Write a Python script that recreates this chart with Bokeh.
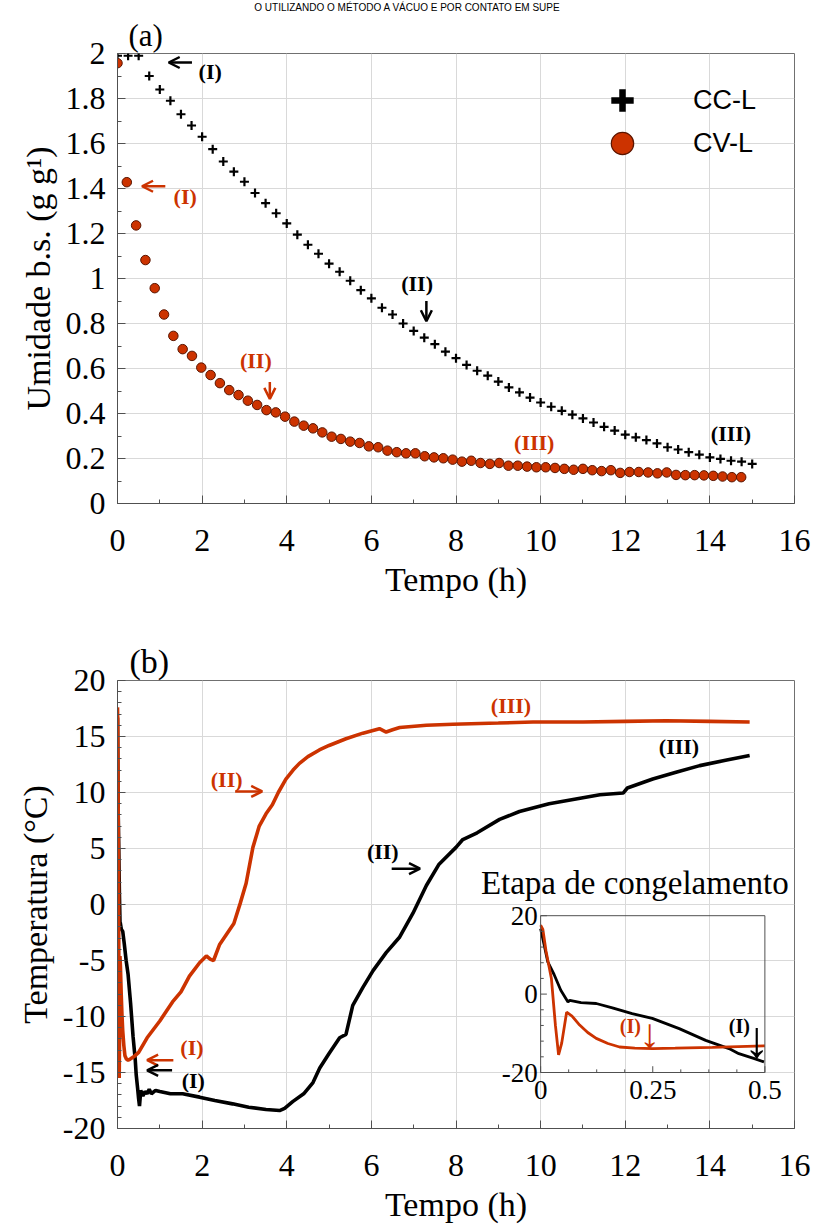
import numpy as np
from bokeh.plotting import figure
from bokeh.layouts import column
from bokeh.models import (Range1d, FixedTicker, Label, Arrow, OpenHead, Legend,
                          LegendItem)
from bokeh.core.properties import value
from bokeh.embed import file_html
from bokeh.resources import INLINE

RED = "#cc3300"
SERIF = "Liberation Serif"
SANS = "Liberation Sans"

# ---------------- Panel (a): moisture content, dry basis (g g-1) ----------------
cc_time = [0.0, 0.25, 0.5, 0.75, 1.0, 1.25, 1.5, 1.75, 2.0, 2.25, 2.5, 2.75, 3.0, 3.25,
           3.5, 3.75, 4.0, 4.25, 4.5, 4.75, 5.0, 5.25, 5.5, 5.75, 6.0, 6.25, 6.5, 6.75,
           7.0, 7.25, 7.5, 7.75, 8.0, 8.25, 8.5, 8.75, 9.0, 9.25, 9.5, 9.75, 10.0, 10.25,
           10.5, 10.75, 11.0, 11.25, 11.5, 11.75, 12.0, 12.25, 12.5, 12.75, 13.0, 13.25,
           13.5, 13.75, 14.0, 14.25, 14.5, 14.75, 15.0]
cc_moisture = [1.99, 1.99, 1.99, 1.90, 1.84, 1.79, 1.73, 1.68, 1.63, 1.575, 1.52, 1.475,
               1.43, 1.38, 1.335, 1.29, 1.245, 1.195, 1.15, 1.11, 1.066, 1.03, 0.99, 0.948,
               0.912, 0.87, 0.84, 0.80, 0.767, 0.737, 0.708, 0.675, 0.646, 0.616, 0.59,
               0.568, 0.542, 0.516, 0.494, 0.471, 0.449, 0.43, 0.412, 0.395, 0.378, 0.36,
               0.341, 0.324, 0.306, 0.294, 0.282, 0.267, 0.25, 0.24, 0.228, 0.217, 0.205,
               0.198, 0.19, 0.186, 0.176]

cv_time = [0.0, 0.22, 0.44, 0.66, 0.88, 1.10, 1.32, 1.54, 1.76, 1.98, 2.20, 2.42, 2.64,
           2.86, 3.08, 3.30, 3.52, 3.74, 3.96, 4.18, 4.40, 4.62, 4.84, 5.06, 5.28, 5.50,
           5.72, 5.94, 6.16, 6.38, 6.60, 6.82, 7.04, 7.26, 7.48, 7.70, 7.92, 8.14, 8.36,
           8.58, 8.80, 9.02, 9.24, 9.46, 9.68, 9.90, 10.12, 10.34, 10.56, 10.78, 11.00,
           11.22, 11.44, 11.66, 11.88, 12.10, 12.32, 12.54, 12.76, 12.98, 13.20, 13.42,
           13.64, 13.86, 14.08, 14.30, 14.52, 14.74]
cv_moisture = [1.957, 1.428, 1.236, 1.082, 0.957, 0.84, 0.745, 0.686, 0.656, 0.604, 0.571,
               0.535, 0.504, 0.482, 0.457, 0.438, 0.415, 0.405, 0.386, 0.364, 0.346, 0.334,
               0.316, 0.297, 0.287, 0.275, 0.269, 0.254, 0.25, 0.235, 0.228, 0.223, 0.223,
               0.21, 0.205, 0.201, 0.195, 0.186, 0.19, 0.18, 0.176, 0.18, 0.168, 0.168,
               0.164, 0.161, 0.161, 0.158, 0.154, 0.15, 0.154, 0.148, 0.144, 0.148, 0.136,
               0.14, 0.14, 0.138, 0.134, 0.138, 0.127, 0.126, 0.126, 0.125, 0.123, 0.12,
               0.117, 0.117]

# ---------------- Panel (b): product temperature (°C) ----------------
cc_temp_time = [0.0, 0.008, 0.016, 0.03, 0.045, 0.061, 0.065, 0.09, 0.124, 0.16, 0.204,
                0.249, 0.309, 0.368, 0.42, 0.442, 0.475, 0.498, 0.52, 0.55, 0.60, 0.65,
                0.70, 0.75, 0.80, 0.90, 1.0, 1.25, 1.54, 1.94, 2.3, 2.72, 3.1, 3.51, 3.83,
                3.95, 4.14, 4.4, 4.62, 4.78, 5.0, 5.25, 5.4, 5.56, 5.8, 6.04, 6.35, 6.67,
                6.98, 7.3, 7.6, 8.0, 8.16, 8.5, 9.03, 9.5, 10.2, 10.8, 11.4, 11.95, 12.05,
                12.65, 13.2, 13.76, 14.4, 14.94]
cc_temp = [16.7, 12.5, 8.2, 5.0, 1.0, -2.0, -1.6, -2.2, -2.4, -3.5, -5.0, -6.2, -8.8,
           -11.8, -13.9, -15.2, -16.4, -17.3, -18.0, -16.6, -17.1, -16.7, -16.9, -16.5,
           -16.9, -16.6, -16.7, -16.9, -16.9, -17.2, -17.5, -17.8, -18.1, -18.3, -18.4,
           -18.2, -17.6, -16.9, -15.9, -14.6, -13.3, -11.9, -11.6, -9.0, -7.4, -5.9, -4.3,
           -2.9, -0.8, 1.7, 3.6, 5.1, 5.8, 6.4, 7.6, 8.3, 9.0, 9.4, 9.8, 9.95, 10.4, 11.2,
           11.8, 12.4, 12.9, 13.3]

cv_temp_time = [0.0, 0.005, 0.012, 0.024, 0.033, 0.040, 0.047, 0.058, 0.070, 0.087, 0.105,
                0.124, 0.150, 0.176, 0.210, 0.250, 0.300, 0.383, 0.50, 0.70, 1.0, 1.3, 1.5,
                1.7, 1.94, 2.1, 2.2, 2.27, 2.41, 2.57, 2.75, 2.9, 3.04, 3.2, 3.35, 3.51,
                3.66, 3.8, 3.98, 4.15, 4.3, 4.5, 4.77, 5.0, 5.4, 5.8, 6.19, 6.35, 6.5, 6.67,
                7.3, 7.93, 9.0, 9.82, 11.0, 12.0, 12.97, 14.0, 14.94]
cv_temp = [17.6, 16.5, 11.0, 4.0, -8.0, -15.5, -12.5, -4.6, -5.6, -7.9, -9.8, -11.3,
           -12.6, -13.5, -13.8, -13.9, -13.8, -13.6, -13.2, -11.9, -10.4, -8.7, -7.8, -6.4,
           -5.2, -4.6, -4.9, -5.0, -3.6, -2.7, -1.7, 0.1, 1.9, 5.1, 7.0, 8.1, 8.9, 10.0,
           11.2, 12.0, 12.6, 13.2, 13.8, 14.2, 14.8, 15.3, 15.7, 15.4, 15.6, 15.8, 16.0,
           16.1, 16.2, 16.3, 16.3, 16.35, 16.4, 16.35, 16.3]

# ---------------- ticks / labels ----------------
time_ticks = [0, 2, 4, 6, 8, 10, 12, 14, 16]
time_minor = [1, 3, 5, 7, 9, 11, 13, 15]
moist_ticks = [0, 0.2, 0.4, 0.6, 0.8, 1, 1.2, 1.4, 1.6, 1.8, 2]
moist_minor = [0.1, 0.3, 0.5, 0.7, 0.9, 1.1, 1.3, 1.5, 1.7, 1.9]
moist_tick_labels = {0: "0", 1: "1", 2: "2"}
temp_ticks = [-20, -15, -10, -5, 0, 5, 10, 15, 20]
temp_tick_labels = {-20: "-20", -15: "-15", -10: "-10", -5: "-5"}
temp_minor = [-19, -18, -17, -16, -14, -13, -12, -11, -9, -8, -7, -6, -4, -3, -2, -1,
              1, 2, 3, 4, 6, 7, 8, 9, 11, 12, 13, 14, 16, 17, 18, 19]
inset_x_ticks = [0, 0.25, 0.5]
inset_x_labels = ["0", "0.25", "0.5"]
inset_x_minor = [0.0625, 0.125, 0.1875, 0.3125, 0.375, 0.4375]
inset_y_ticks = [-20, 0, 20]
inset_y_labels = ["-20", "0", "20"]
inset_y_minor = [-16, -12, -8, -4, 4, 8, 12, 16]
inset_x_range = (0, 0.5)
inset_y_range = (-20, 20)
inset_target_x = (10.0, 15.3)
inset_target_y = (-15.0, -1.0)

CAPTION = "O UTILIZANDO O MÉTODO A VÁCUO E POR CONTATO EM SUPE"


def style(p, xt, xm, yt, ym, xlabel, ylabel):
    p.xaxis.ticker = FixedTicker(ticks=xt, minor_ticks=xm)
    p.yaxis.ticker = FixedTicker(ticks=yt, minor_ticks=ym)
    p.xgrid.ticker = FixedTicker(ticks=xt)
    p.ygrid.ticker = FixedTicker(ticks=yt)
    p.grid.grid_line_color = "#d9d9d9"
    p.grid.grid_line_width = 1
    p.outline_line_color = "#707070"
    p.xaxis.axis_label = xlabel
    p.yaxis.axis_label = ylabel
    for ax in p.xaxis + p.yaxis:
        ax.major_label_text_font = SERIF
        ax.major_label_text_font_size = "32px"
        ax.major_label_text_color = "black"
        ax.axis_label_text_font = SERIF
        ax.axis_label_text_font_size = "34px"
        ax.axis_label_text_font_style = "normal"
        ax.axis_label_text_color = "black"
        ax.major_tick_in = 8
        ax.major_tick_out = 0
        ax.minor_tick_in = 4
        ax.minor_tick_out = 0
        ax.axis_line_color = "#505050"
        ax.major_tick_line_color = "#505050"
        ax.minor_tick_line_color = "#505050"
    p.xaxis.major_label_standoff = 26
    p.xaxis.axis_label_standoff = 7
    p.yaxis.major_label_standoff = 12
    p.title.text_font = SERIF
    p.title.text_font_style = "normal"
    p.title.text_color = "black"
    p.title.align = "left"


def tag(p, text, x, y, color, size="22px"):
    p.add_layout(Label(x=x, y=y, text=text, text_font=SERIF, text_font_size=size,
                       text_font_style="bold", text_color=color, text_align="center",
                       text_baseline="middle"))


def arrow(p, x0, y0, x1, y1, color):
    p.add_layout(Arrow(end=OpenHead(size=11, line_color=color, line_width=2.5),
                       x_start=x0, y_start=y0, x_end=x1, y_end=y1,
                       line_color=color, line_width=2.5))


def legend_entry(p, label, renderer, vy):
    p.add_layout(Legend(items=[LegendItem(label=label, renderers=[renderer])],
                        location=(477, vy), padding=0, margin=0,
                        glyph_width=56, glyph_height=56, label_standoff=43,
                        label_text_font=SANS, label_text_font_size="27px",
                        label_text_color="black", border_line_alpha=0,
                        background_fill_alpha=0))


# ======================= caption strip at the top =======================
cap = figure(width=814, height=14, x_range=Range1d(0, 1), y_range=Range1d(0, 1),
             x_axis_type=None, y_axis_type=None, output_backend="svg",
             toolbar_location=None, min_border=0, min_border_left=117,
             min_border_right=20, min_border_top=0, min_border_bottom=0)
cap.outline_line_color = None
cap.add_layout(Label(x=290, y=0.5, x_units="screen", y_units="data", text=CAPTION,
                     text_font=SANS, text_font_size="10px", text_align="center",
                     text_baseline="middle", text_color="black"))

# ======================= Panel (a) =======================
pa = figure(width=814, height=598, x_range=Range1d(0, 16), y_range=Range1d(0, 2),
            output_backend="svg", toolbar_location=None, title="(a)",
            min_border_left=117, min_border_right=20, min_border_top=38,
            min_border_bottom=109)
style(pa, time_ticks, time_minor, moist_ticks, moist_minor, "Tempo (h)",
      "Umidade b.s. (g g\u00b9)")
pa.title.text_font_size = "31px"
pa.title.standoff = 2
pa.title.offset = 11
pa.yaxis.major_label_overrides = moist_tick_labels
pa.yaxis.axis_label_standoff = 6

pa.scatter(cc_time, cc_moisture, marker="cross", size=9, line_color="black",
           line_width=2.2)
pa.scatter(cv_time, cv_moisture, marker="circle", size=9.5, fill_color=RED,
           line_color="#5a1500", line_width=1)

# hidden copies of the series, only used to draw large legend symbols
leg_cc = pa.scatter(cc_time, cc_moisture, marker="cross", line_color="black",
                    line_width=6.5, visible=False)
leg_cv = pa.scatter(cv_time, cv_moisture, marker="circle", fill_color=RED,
                    line_color="#5a1500", line_width=1.2, visible=False)
legend_entry(pa, "CC-L", leg_cc, 375)
legend_entry(pa, "CV-L", leg_cv, 332)

tag(pa, "(I)", 2.19, 1.92, "black")
arrow(pa, 1.76, 1.96, 1.21, 1.96, "black")
tag(pa, "(I)", 1.6, 1.366, RED)
arrow(pa, 1.13, 1.41, 0.58, 1.41, RED)
tag(pa, "(II)", 7.08, 0.98, "black")
arrow(pa, 7.3, 0.90, 7.3, 0.81, "black")
tag(pa, "(II)", 3.27, 0.634, RED)
arrow(pa, 3.6, 0.54, 3.6, 0.465, RED)
tag(pa, "(III)", 9.85, 0.272, RED)
tag(pa, "(III)", 14.5, 0.31, "black")

# ======================= Panel (b) =======================
pb = figure(width=814, height=613, x_range=Range1d(0, 16), y_range=Range1d(-20, 20),
            output_backend="svg", toolbar_location=None, title="(b)",
            min_border_left=117, min_border_right=20, min_border_top=68,
            min_border_bottom=93)
style(pb, time_ticks, time_minor, temp_ticks, temp_minor, "Tempo (h)",
      "Temperatura (°C)")
pb.title.text_font_size = "34px"
pb.title.standoff = 2
pb.title.offset = 12
pb.yaxis.major_label_overrides = temp_tick_labels
pb.yaxis.axis_label_standoff = 6

pb.line(cc_temp_time, cc_temp, line_color="black", line_width=3.6)
pb.line(cv_temp_time, cv_temp, line_color=RED, line_width=3.6)

tag(pb, "(I)", 1.76, -12.8, RED)
arrow(pb, 1.32, -13.9, 0.70, -13.9, RED)
tag(pb, "(I)", 1.79, -15.7, "black")
arrow(pb, 1.29, -14.8, 0.70, -14.8, "black")
tag(pb, "(II)", 2.58, 11.2, RED)
arrow(pb, 2.78, 10.1, 3.42, 10.1, RED)
tag(pb, "(II)", 6.27, 4.7, "black")
arrow(pb, 6.48, 3.2, 7.15, 3.2, "black")
tag(pb, "(III)", 9.3, 17.8, RED)
tag(pb, "(III)", 13.27, 14.1, "black")

# ---------------- inset: freezing stage ----------------
ins = pb.subplot(x_source=Range1d(*inset_x_range), y_source=Range1d(*inset_y_range),
                 x_target=Range1d(*inset_target_x), y_target=Range1d(*inset_target_y))

cc_t = np.array(cc_temp_time)
cv_t = np.array(cv_temp_time)
m_cc = cc_t <= inset_x_range[1]
m_cv = cv_t <= inset_x_range[1]
ins.line(cc_t[m_cc], np.array(cc_temp)[m_cc], line_color="black", line_width=2.8)
ins.line(cv_t[m_cv], np.array(cv_temp)[m_cv], line_color=RED, line_width=2.8)

x0, x1 = inset_x_range
y0, y1 = inset_y_range
ins.quad(left=[x0], right=[x1], bottom=[y0], top=[y1], fill_alpha=0,
         line_color="#505050", line_width=1)
ins.segment(x0=inset_x_ticks, y0=[y0] * 3, x1=inset_x_ticks, y1=[y0 + 1.6] * 3,
            line_color="#505050")
ins.segment(x0=inset_x_minor, y0=[y0] * 6, x1=inset_x_minor, y1=[y0 + 0.8] * 6,
            line_color="#505050")
ins.segment(x0=[x0] * 3, y0=inset_y_ticks, x1=[x0 + 0.014] * 3, y1=inset_y_ticks,
            line_color="#505050")
ins.segment(x0=[x0] * 8, y0=inset_y_minor, x1=[x0 + 0.007] * 8, y1=inset_y_minor,
            line_color="#505050")
ins.text(x=inset_x_ticks, y=[y0] * 3, text=inset_x_labels, y_offset=8,
         text_font=value(SERIF), text_font_size="27px", text_align="center",
         text_baseline="top", text_color="black")
ins.text(x=[x0] * 3, y=inset_y_ticks, text=inset_y_labels, x_offset=-3,
         text_font=value(SERIF), text_font_size="27px", text_align="right",
         text_baseline="middle", text_color="black")
ins.text(x=[0.21], y=[y1], text=["Etapa de congelamento"], y_offset=-33,
         text_font=value(SERIF), text_font_size="33px", text_align="center",
         text_baseline="middle", text_color="black")
ins.text(x=[0.2], y=[-8.2], text=["(I)"], text_font=value(SERIF),
         text_font_style="bold", text_font_size="20px", text_align="center",
         text_baseline="middle", text_color=RED)
ins.text(x=[0.243], y=[-10.3], text=["\u2193"], text_font=value(SERIF),
         text_font_style="bold", text_font_size="42px", text_align="center",
         text_baseline="middle", text_color=RED)
ins.text(x=[0.443], y=[-8.2], text=["(I)"], text_font=value(SERIF),
         text_font_style="bold", text_font_size="20px", text_align="center",
         text_baseline="middle", text_color="black")
ins.text(x=[0.482], y=[-11.6], text=["\u2193"], text_font=value(SERIF),
         text_font_style="bold", text_font_size="52px", text_align="center",
         text_baseline="middle", text_color="black")

layout = column(cap, pa, pb, spacing=0)
open("out.html", "w").write(file_html(layout, INLINE))
